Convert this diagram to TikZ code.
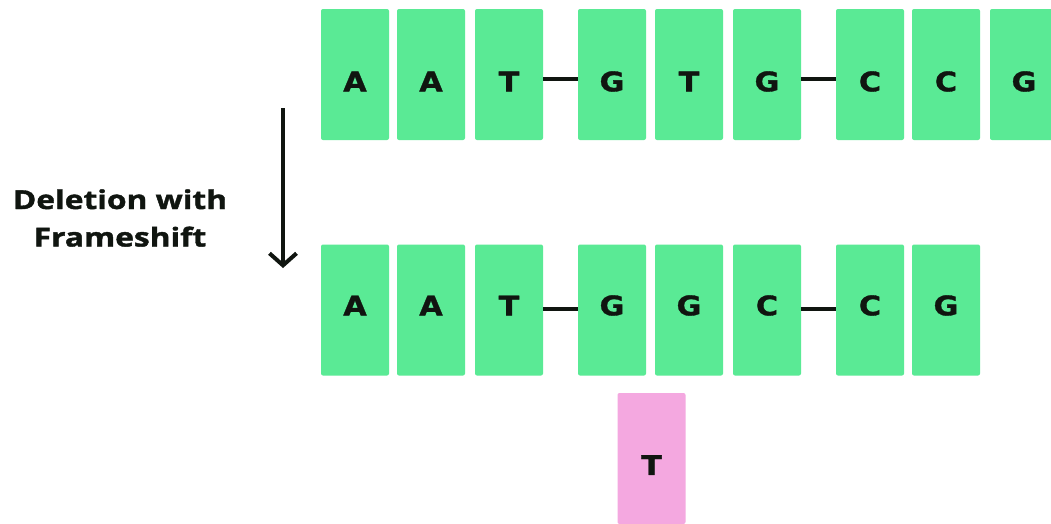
\documentclass[tikz,border=0pt]{standalone}
\usepackage{fontspec}
\newfontfamily\basefont[FakeStretch=1.12,FakeBold=1.2]{DejaVu Sans}
\newfontfamily\labfont[FakeStretch=1.22,FakeBold=1.5]{Open Sans}
\usetikzlibrary{arrows.meta}
\definecolor{gfill}{HTML}{5AEA95}
\definecolor{pfill}{HTML}{F4A8E0}
\definecolor{ink}{HTML}{101510}
\begin{document}
\begin{tikzpicture}[x=1pt,y=-1pt,
  base/.style={minimum width=68pt,minimum height=131pt,inner sep=0pt,rounded corners=2pt},
  gbox/.style={base,fill=gfill},
  pbox/.style={base,fill=pfill},
  lt/.style={font=\basefont\bfseries\fontsize{27}{27}\selectfont,text=ink,inner sep=0pt},
  ltop/.style={lt,yshift=-7pt},
  lbot/.style={lt,yshift=4.5pt},
  link/.style={line width=4pt,ink},
  bigarrow/.style={line width=4pt,ink,-{Straight Barb[length=12pt,width=27pt,line width=4pt]}},
  caption/.style={font=\labfont\bfseries\fontsize{26}{37.5}\selectfont,text=ink,align=center,inner sep=0pt}
]
\clip (0,0) rectangle (1051,523);
\fill[white] (0,0) rectangle (1051,523);
% top row
\node[gbox,label={[ltop]center:A}] (t1) at (355,74.5) {};
\node[gbox,label={[ltop]center:A}] (t2) at (431,74.5) {};
\node[gbox,label={[ltop]center:T}] (t3) at (509,74.5) {};
\node[gbox,label={[ltop]center:G}] (t4) at (612,74.5) {};
\node[gbox,label={[ltop]center:T}] (t5) at (689,74.5) {};
\node[gbox,label={[ltop]center:G}] (t6) at (767,74.5) {};
\node[gbox,label={[ltop]center:C}] (t7) at (870,74.5) {};
\node[gbox,label={[ltop]center:C}] (t8) at (946,74.5) {};
\node[gbox,label={[ltop]center:G}] (t9) at (1024,74.5) {};
\draw[link] ([yshift=-4.5pt]t3.east) -- ([yshift=-4.5pt]t4.west);
\draw[link] ([yshift=-4.5pt]t6.east) -- ([yshift=-4.5pt]t7.west);
% bottom row
\node[gbox,label={[lbot]center:A}] (b1) at (355,310) {};
\node[gbox,label={[lbot]center:A}] (b2) at (431,310) {};
\node[gbox,label={[lbot]center:T}] (b3) at (509,310) {};
\node[gbox,label={[lbot]center:G}] (b4) at (612,310) {};
\node[gbox,label={[lbot]center:G}] (b5) at (689,310) {};
\node[gbox,label={[lbot]center:C}] (b6) at (767,310) {};
\node[gbox,label={[lbot]center:C}] (b7) at (870,310) {};
\node[gbox,label={[lbot]center:G}] (b8) at (946,310) {};
\draw[link] ([yshift=1pt]b3.east) -- ([yshift=1pt]b4.west);
\draw[link] ([yshift=1pt]b6.east) -- ([yshift=1pt]b7.west);
% deleted base
\node[pbox,label={[lt,yshift=-6.5pt]center:T}] (del) at (651.5,458.5) {};
% arrow and caption
\coordinate (arrS) at (283,108);
\coordinate (arrE) at (283,268);
\draw[bigarrow] (arrS) -- (arrE);
\node[caption] (cap) at (120,218) {Deletion with\\Frameshift};
\end{tikzpicture}
\end{document}
